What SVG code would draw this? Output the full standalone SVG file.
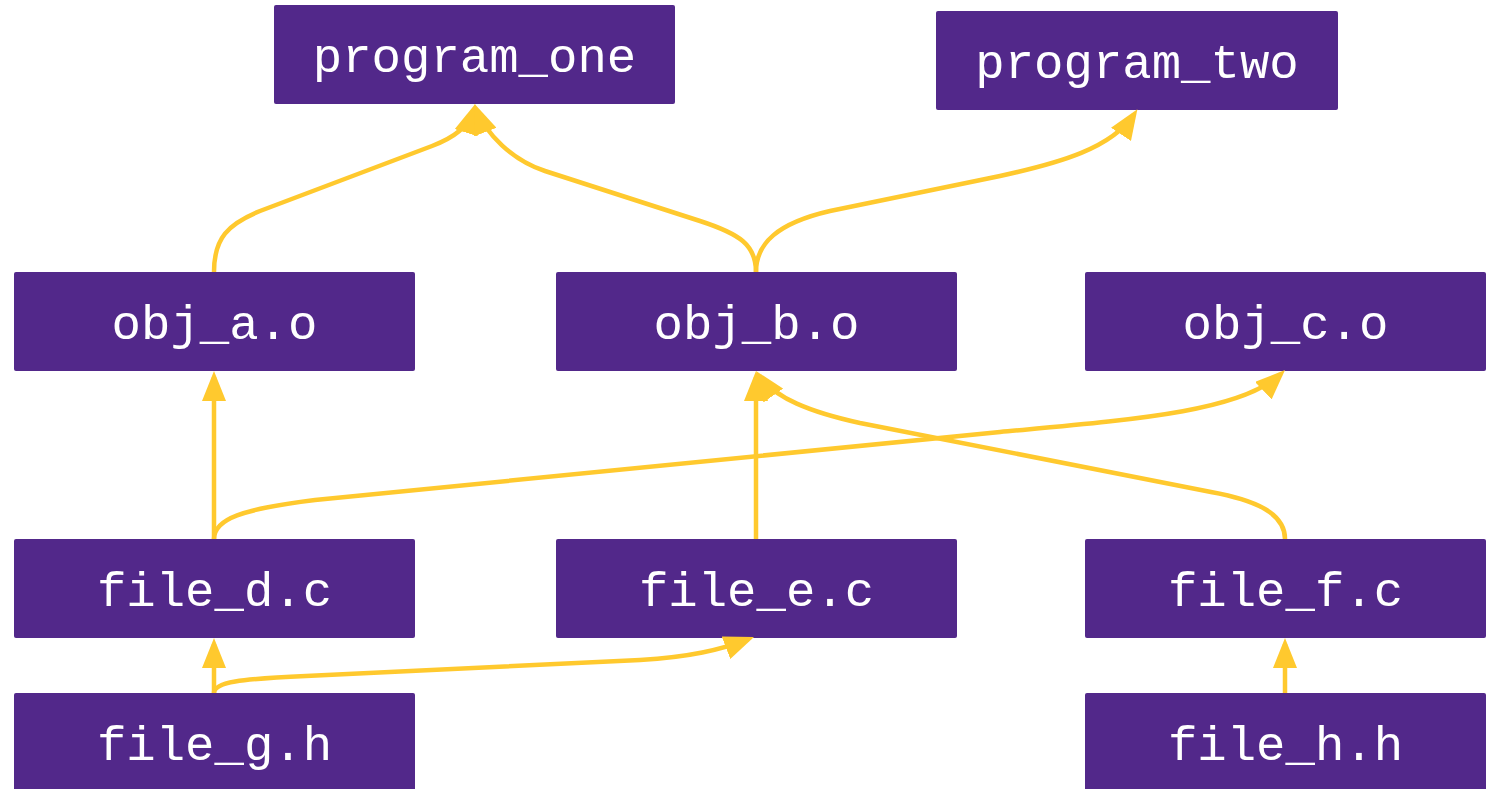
<svg xmlns="http://www.w3.org/2000/svg" width="1496" height="789" viewBox="0 0 1496 789">
<style>
.box{fill:#52288a;}
.lbl{fill:#ffffff;font-family:"Liberation Mono","DejaVu Sans Mono",monospace;font-size:49px;text-anchor:middle;}
.edge{fill:none;stroke:#ffc92e;stroke-width:4.5;}
</style>
<defs>
<marker id="arr" markerUnits="userSpaceOnUse" markerWidth="30" markerHeight="24" viewBox="0 0 30 24" refX="24" refY="12" orient="auto">
<path d="M0,0 L30,12 L0,24 z" fill="#ffc92e"/>
</marker>
</defs>
<rect width="1496" height="789" fill="#ffffff"/>
<g id="program_one"><rect class="box" x="274" y="5" width="401" height="99" rx="2"/><text class="lbl" x="474.5" y="72">program_one</text></g>
<g id="program_two"><rect class="box" x="936" y="11" width="402" height="99" rx="2"/><text class="lbl" x="1137" y="78">program_two</text></g>
<g id="obj_a"><rect class="box" x="14" y="272" width="401" height="99" rx="2"/><text class="lbl" x="214.5" y="339">obj_a.o</text></g>
<g id="obj_b"><rect class="box" x="556" y="272" width="401" height="99" rx="2"/><text class="lbl" x="756.5" y="339">obj_b.o</text></g>
<g id="obj_c"><rect class="box" x="1085" y="272" width="401" height="99" rx="2"/><text class="lbl" x="1285.5" y="339">obj_c.o</text></g>
<g id="file_d"><rect class="box" x="14" y="539" width="401" height="99" rx="2"/><text class="lbl" x="214.5" y="606">file_d.c</text></g>
<g id="file_e"><rect class="box" x="556" y="539" width="401" height="99" rx="2"/><text class="lbl" x="756.5" y="606">file_e.c</text></g>
<g id="file_f"><rect class="box" x="1085" y="539" width="401" height="99" rx="2"/><text class="lbl" x="1285.5" y="606">file_f.c</text></g>
<g id="file_g"><rect class="box" x="14" y="693" width="401" height="99" rx="2"/><text class="lbl" x="214.5" y="760">file_g.h</text></g>
<g id="file_h"><rect class="box" x="1085" y="693" width="401" height="99" rx="2"/><text class="lbl" x="1285.5" y="760">file_h.h</text></g>
<g id="connectors">
<path class="edge" marker-end="url(#arr)" d="M214,272 C214,238 228,224 260,211 L432,146 C455,137 468,127 473.4,109.8"/>
<path class="edge" marker-end="url(#arr)" d="M756,272 C756,245 740,234 700,221 L545,171 C512,160 486,134 476.8,109.7"/>
<path class="edge" marker-end="url(#arr)" d="M756,272 C756,243 778,223 830,211 L1000,176 C1060,163 1112,148 1134.1,114.3"/>
<path class="edge" marker-end="url(#arr)" d="M214,539 L214,377"/>
<path class="edge" marker-end="url(#arr)" d="M214,539 C214,519 242,509 315,500 L1000,432 C1130,420 1241,412 1280.7,374.1"/>
<path class="edge" marker-end="url(#arr)" d="M756,539 L756,377"/>
<path class="edge" marker-end="url(#arr)" d="M1285,539 C1285,513 1255,500 1211,492 L860,423 C810,412 775,398 759.5,375.9"/>
<path class="edge" marker-end="url(#arr)" d="M214,693 L214,644"/>
<path class="edge" marker-end="url(#arr)" d="M214,693 C214,682 240,679 306,676 L640,660 C690,657 720,650 748.4,639.1"/>
<path class="edge" marker-end="url(#arr)" d="M1285,693 L1285,644"/>
</g>
</svg>
